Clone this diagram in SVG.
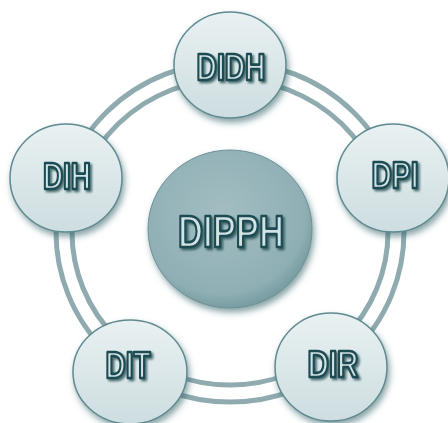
<svg xmlns="http://www.w3.org/2000/svg" width="448" height="423" viewBox="0 0 448 423">
<defs>
<linearGradient id="nodeGrad" x1="0" y1="0" x2="0" y2="1">
<stop offset="0" stop-color="#e9f1f2"/>
<stop offset="1" stop-color="#cddde0"/>
</linearGradient>
<radialGradient id="hubGrad" cx="0.45" cy="0.4" r="0.6">
<stop offset="0" stop-color="#a3bec2"/>
<stop offset="0.85" stop-color="#8fafb4"/>
<stop offset="1" stop-color="#789da2"/>
</radialGradient>
<filter id="nodeShadow" x="-30%" y="-30%" width="160%" height="160%">
<feDropShadow dx="2" dy="4" stdDeviation="3" flood-color="#2c5a60" flood-opacity="0.55"/>
</filter>
<filter id="textShadow" x="-20%" y="-20%" width="140%" height="160%">
<feDropShadow dx="2" dy="2" stdDeviation="1" flood-color="#173a3f" flood-opacity="0.7"/>
</filter>
</defs>
<style>
.ring{fill:none;stroke:#8fabaf;stroke-width:5}
.node{fill:url(#nodeGrad);stroke:#5f8a90;stroke-width:1.5;filter:url(#nodeShadow)}
.hub{fill:url(#hubGrad);stroke:#6a9095;stroke-width:1;filter:url(#nodeShadow)}
.lbl{font-family:"Liberation Sans",Arial,sans-serif;font-weight:bold;fill:#d3e2e4;stroke:#1d4c53;stroke-width:2.7;stroke-linejoin:round;text-anchor:middle;filter:url(#textShadow)}
.s{font-size:37px}
.l{font-size:45px}
</style>
<rect width="448" height="423" fill="#ffffff"/>
<g id="connectors">
<ellipse class="ring" cx="230" cy="232" rx="174" ry="170"/>
<ellipse class="ring" cx="230" cy="232" rx="158" ry="153"/>
</g>
<g id="hub">
<ellipse class="hub" cx="230" cy="229" rx="82" ry="79"/>
<text class="lbl l" x="231" y="247" textLength="106" lengthAdjust="spacingAndGlyphs">DIPPH</text>
</g>
<g id="node-didh">
<ellipse class="node" cx="230" cy="65" rx="56" ry="53"/>
<text class="lbl s" x="231" y="80" textLength="69" lengthAdjust="spacingAndGlyphs">DIDH</text>
</g>
<g id="node-dih">
<ellipse class="node" cx="66" cy="178" rx="56" ry="54"/>
<text class="lbl s" x="67" y="189" textLength="48" lengthAdjust="spacingAndGlyphs">DIH</text>
</g>
<g id="node-dpi">
<ellipse class="node" cx="393" cy="178" rx="56" ry="54"/>
<text class="lbl s" x="395" y="188" textLength="47" lengthAdjust="spacingAndGlyphs">DPI</text>
</g>
<g id="node-dit">
<ellipse class="node" cx="130" cy="372" rx="57" ry="52"/>
<text class="lbl s" x="128" y="378" textLength="45" lengthAdjust="spacingAndGlyphs">DIT</text>
</g>
<g id="node-dir">
<ellipse class="node" cx="331" cy="367" rx="56" ry="54"/>
<text class="lbl s" x="333" y="377" textLength="51" lengthAdjust="spacingAndGlyphs">DIR</text>
</g>
</svg>
